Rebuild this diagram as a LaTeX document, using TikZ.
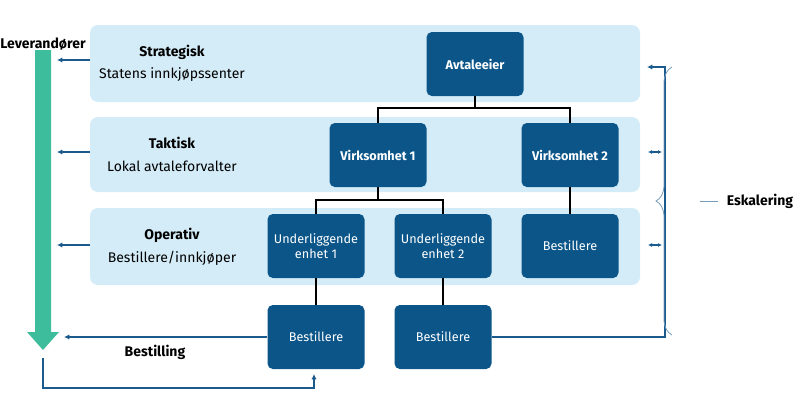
\documentclass[tikz,border=0pt]{standalone}
\usepackage{fontspec}
\setmainfont{Fira Sans}
\usetikzlibrary{arrows.meta,decorations.pathreplacing}
\definecolor{band}{HTML}{D4ECF7}
\definecolor{dk}{HTML}{0B5589}
\definecolor{ln}{HTML}{1B5A8C}
\definecolor{gr}{HTML}{3DBD9B}
\begin{document}
\begin{tikzpicture}[x=0.75pt,y=-0.75pt,
  band/.style={fill=band,rounded corners=6pt,draw=none},
  box/.style={fill=dk,rounded corners=4pt,text=white,align=center,font=\fontsize{9.5}{11}\selectfont,minimum width=72.75pt,minimum height=48pt,inner sep=1pt},
  bbox/.style={box,font=\fontsize{9.5}{11}\selectfont\bfseries},
  con/.style={draw=black,line width=1.2pt},
  arr/.style={draw=ln,line width=1.2pt,-{Latex[length=4pt,width=4pt]}},
  lbl/.style={font=\fontsize{10.5}{12}\selectfont\bfseries},
  txt/.style={font=\fontsize{10.5}{12}\selectfont}]
\useasboundingbox (0,0) rectangle (800,418);
\fill[band] (90,25) rectangle (640,102);
\fill[band] (90,117) rectangle (640,192);
\fill[band] (90,208) rectangle (640,285);
\node[bbox] (ae) at (475,64) {Avtaleeier};
\node[bbox] (v1) at (378,155) {Virksomhet 1};
\node[bbox] (v2) at (570,155) {Virksomhet 2};
\node[box] (u1) at (316,246) {Underliggende\\enhet 1};
\node[box] (u2) at (443,246) {Underliggende\\enhet 2};
\node[box] (b3) at (570,246) {Bestillere};
\node[box] (b1) at (316,337) {Bestillere};
\node[box] (b2) at (443,337) {Bestillere};
\draw[con] (ae.south) |- (378,108) -- (v1.north);
\draw[con] (475,108) -| (v2.north);
\draw[con] (v1.south) |- (316,200) -- (u1.north);
\draw[con] (378,200) -| (u2.north);
\draw[con] (v2.south) -- (b3.north);
\draw[con] (u1.south) -- (b1.north);
\draw[con] (u2.south) -- (b2.north);
\node[lbl] (lev) at (43,44) {Leverandører};
\node[lbl] (s1) at (172,52) {Strategisk};
\node[txt] (s2) at (172,75) {Statens innkjøpssenter};
\node[lbl] (t1) at (172,143) {Taktisk};
\node[txt] (t2) at (172,166) {Lokal avtaleforvalter};
\node[lbl] (o1) at (172,235) {Operativ};
\node[txt] (o2) at (172,258) {Bestillere/innkjøper};
\node[lbl] (bs) at (155,352) {Bestilling};
\node[lbl] (esk) at (760,201) {Eskalering};
\fill[gr] (35,50) -- (51,50) -- (51,332) -- (59,332) -- (43,350) -- (27,332) -- (35,332) -- cycle;
\coordinate (g1) at (90,60); \coordinate (g1e) at (57,60);
\coordinate (g2) at (90,152); \coordinate (g2e) at (57,152);
\coordinate (g3) at (90,245); \coordinate (g3e) at (57,245);
\draw[arr] (g1) -- (g1e);
\draw[arr] (g2) -- (g2e);
\draw[arr] (g3) -- (g3e);
\coordinate (be) at (64,337);
\draw[arr] (b1.west) -- (be);
\coordinate (gb) at (43,358);
\coordinate (b1t) at (314,374);
\draw[arr] (gb) -- (43,388) -| (b1t);
\coordinate (ee) at (647,67);
\draw[arr] (b2.east) -| (665,67) -- (ee);
\coordinate (d1a) at (648,152); \coordinate (d1b) at (662,152);
\coordinate (d2a) at (648,245); \coordinate (d2b) at (662,245);
\draw[draw=ln,line width=1pt,{Latex[length=3pt,width=3pt]}-{Latex[length=3pt,width=3pt]}] (d1a) -- (d1b);
\draw[draw=ln,line width=1pt,{Latex[length=3pt,width=3pt]}-{Latex[length=3pt,width=3pt]}] (d2a) -- (d2b);
\coordinate (br1) at (672,67); \coordinate (br2) at (672,335);
\draw[draw=ln!60,line width=0.6pt,decorate,decoration={brace,amplitude=12pt,mirror,aspect=0.5}] (br1) -- (br2);
\coordinate (bt) at (700,201);
\draw[draw=ln!60,line width=0.6pt] (bt) -- (718,201);
\end{tikzpicture}
\end{document}
